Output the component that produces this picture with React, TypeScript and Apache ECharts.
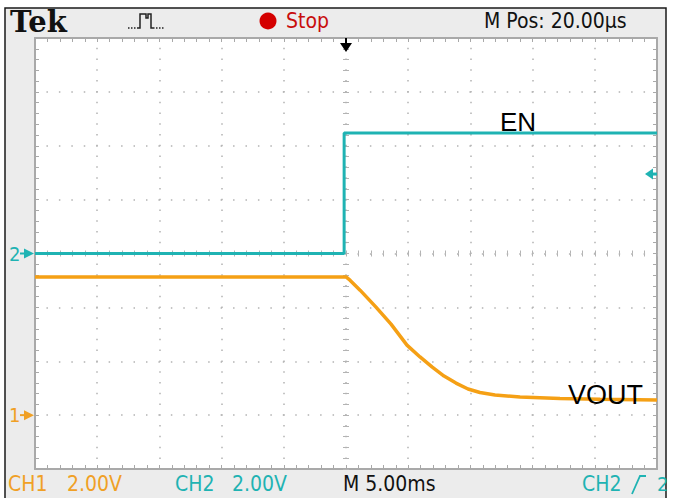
import React, { useEffect, useRef } from 'react';
import * as echarts from 'echarts';

// Time in ms relative to trigger (5 ms/div, 10 divs)
const timeRange = [-25, 25];
// CH1 (VOUT) 2 V/div, ground marker 3 divs below centre
const ch1Range = [-2, 14];
// CH2 (EN) 2 V/div, ground marker at centre
const ch2Range = [-8, 8];

const ch1TimeMs = [-25, 0, 0.32, 1.13, 2.41, 3.62, 4.9, 5.95, 6.91, 7.88, 8.84, 9.81, 10.77, 11.98, 13.99, 17.2, 20.42, 25];
const ch1Volts = [5.13, 5.13, 5.01, 4.64, 4.01, 3.38, 2.6, 2.16, 1.79, 1.45, 1.19, 0.97, 0.84, 0.75, 0.67, 0.62, 0.59, 0.56];

const ch2TimeMs = [-25, -0.15, -0.15, 25];
const ch2Volts = [0, 0, 4.47, 4.47];

const triggerTimeMs = 0;
const triggerLevelV = 2.95;

const headerTexts = { brand: 'Tek', state: 'Stop', pos: 'M Pos: 20.00µs' };
const footerTexts = { ch1: 'CH1', ch1Scale: '2.00V', ch2: 'CH2', ch2Scale: '2.00V', time: 'M 5.00ms', trig: 'CH2', trigLevel: '2' };
const traceLabels = { en: 'EN', vout: 'VOUT' };

const CYAN = '#1fb3b3';
const ORANGE = '#f5a015';
const ORANGE_TXT = '#f0a025';
const FRAME = '#a9a9a9';
const DOT = '#b3b3b3';
const NARROW = '"Liberation Sans Narrow", "DejaVu Sans Condensed", "Roboto", sans-serif';

const GL = 35, GT = 38, GW = 622, GH = 431;

export default function App() {
  const ref = useRef<HTMLDivElement>(null);
  useEffect(() => {
    document.body.style.margin = '0';
    const chart = echarts.init(ref.current!, null, { renderer: 'svg' });
    const frameAxis = (extra: any) => ({
      type: 'value',
      axisLine: { show: true, onZero: false, lineStyle: { color: FRAME, width: 2 } },
      axisTick: { show: true, inside: true, length: 4, lineStyle: { color: FRAME, width: 1 } },
      minorTick: { show: true, splitNumber: 5, length: 4, lineStyle: { color: FRAME, width: 1 } },
      axisLabel: { show: false },
      splitLine: { show: false },
      ...extra,
    });
    const centreAxis = (extra: any, inside: boolean) => ({
      type: 'value',
      axisLine: { show: false, onZero: false },
      axisTick: { show: true, inside, length: 3, lineStyle: { color: DOT, width: 1 } },
      minorTick: { show: true, splitNumber: 5, length: 3, lineStyle: { color: DOT, width: 1 } },
      axisLabel: { show: false },
      splitLine: { show: false },
      ...extra,
    });
    const tx = { min: timeRange[0], max: timeRange[1], interval: 5 };
    const ty = { min: ch2Range[0], max: ch2Range[1], interval: 2 };
    chart.setOption({
      animation: false,
      backgroundColor: '#ffffff',
      grid: { left: GL, top: GT, width: GW, height: GH, show: true, backgroundColor: '#ffffff', borderWidth: 0 },
      xAxis: [
        frameAxis({ ...tx, position: 'bottom', splitLine: { show: true, lineStyle: { color: DOT, width: 1.5, type: [1.5, 9.28], dashOffset: 0.75 } } }),
        frameAxis({ ...tx, position: 'top' }),
        centreAxis({ ...tx, position: 'bottom', offset: -GH / 2 }, true),
        centreAxis({ ...tx, position: 'bottom', offset: -GH / 2 }, false),
      ],
      yAxis: [
        frameAxis({ min: ch1Range[0], max: ch1Range[1], interval: 2, position: 'left', splitLine: { show: true, lineStyle: { color: DOT, width: 1.5, type: [1.5, 10.94], dashOffset: 0.75 } } }),
        frameAxis({ ...ty, position: 'right' }),
        centreAxis({ ...ty, position: 'left', offset: -GW / 2 }, true),
        centreAxis({ ...ty, position: 'left', offset: -GW / 2 }, false),
      ],
      series: [
        {
          type: 'line', name: 'CH2', xAxisIndex: 0, yAxisIndex: 1, showSymbol: false, symbol: 'none',
          data: ch2TimeMs.map((t, i) => [t, ch2Volts[i]]),
          lineStyle: { color: CYAN, width: 3 }, z: 5,
        },
        {
          type: 'line', name: 'CH1', xAxisIndex: 0, yAxisIndex: 0, showSymbol: false, symbol: 'none',
          data: ch1TimeMs.map((t, i) => [t, ch1Volts[i]]),
          lineStyle: { color: ORANGE, width: 3.5 }, z: 6,
        },
      ],
    });

    const ch1Ground = chart.convertToPixel({ xAxisIndex: 0, yAxisIndex: 0 }, [timeRange[0], 0]) as number[];
    const ch2Ground = chart.convertToPixel({ xAxisIndex: 0, yAxisIndex: 1 }, [timeRange[0], 0]) as number[];
    const trigLvl = chart.convertToPixel({ xAxisIndex: 0, yAxisIndex: 1 }, [timeRange[1], triggerLevelV]) as number[];
    const trigPos = chart.convertToPixel({ xAxisIndex: 0, yAxisIndex: 1 }, [triggerTimeMs, ch2Range[1]]) as number[];
    const enPt = chart.convertToPixel({ xAxisIndex: 0, yAxisIndex: 1 }, [ch2TimeMs[3], ch2Volts[3]]) as number[];
    const voutPt = chart.convertToPixel({ xAxisIndex: 0, yAxisIndex: 0 }, [ch1TimeMs[ch1TimeMs.length - 1], ch1Volts[ch1Volts.length - 1]]) as number[];

    const txt = (x: number, y: number, text: string, fill: string, fontSize: number, extra: any = {}) => ({
      type: 'text', x, y, z: 100,
      style: { text, fill, fontSize, fontFamily: NARROW, textVerticalAlign: 'middle', verticalAlign: 'middle', ...extra },
    });

    const gy = ch2Ground[1], g1 = ch1Ground[1];
    chart.setOption({
      graphic: [
        { type: 'rect', z: -10, shape: { x: 5, y: 8, width: 661, height: 500 }, style: { fill: '#ececec', stroke: '#1a1a1a', lineWidth: 1.5 } },
        // header
        txt(10, 22, headerTexts.brand, '#111', 29, { fontFamily: '"DejaVu Serif", serif', fontWeight: 'bold' }),
        { type: 'polyline', z: 100, shape: { points: [[128, 28], [138, 28]] }, style: { stroke: '#222', lineWidth: 1.5, lineDash: [1.5, 1.5], fill: 'none' } },
        { type: 'polyline', z: 100, shape: { points: [[138, 28], [140, 28], [140, 14], [146, 14], [146, 18], [148, 18], [148, 14], [151, 14], [151, 28], [153, 28]] }, style: { stroke: '#222', lineWidth: 1.5, fill: 'none' } },
        { type: 'polyline', z: 100, shape: { points: [[153, 28], [165, 28]] }, style: { stroke: '#222', lineWidth: 1.5, lineDash: [1.5, 1.5], fill: 'none' } },
        { type: 'circle', z: 100, shape: { cx: 268, cy: 21, r: 8.5 }, style: { fill: '#d40000' } },
        txt(286, 21, headerTexts.state, '#c80d0d', 21),
        txt(484, 21, headerTexts.pos, '#111', 21),
        // trigger position marker
        { type: 'line', z: 100, shape: { x1: trigPos[0], y1: GT, x2: trigPos[0], y2: GT + 8 }, style: { stroke: '#000', lineWidth: 2 } },
        { type: 'polygon', z: 100, shape: { points: [[trigPos[0] - 6, GT + 5], [trigPos[0] + 6, GT + 5], [trigPos[0], GT + 14]] }, style: { fill: '#000' } },
        // ground markers
        txt(9, gy, '2', CYAN, 20),
        { type: 'line', z: 100, shape: { x1: 20, y1: gy, x2: 28, y2: gy }, style: { stroke: CYAN, lineWidth: 2 } },
        { type: 'polygon', z: 100, shape: { points: [[24, gy - 5], [34, gy], [24, gy + 5]] }, style: { fill: CYAN } },
        txt(9, g1, '1', ORANGE_TXT, 20),
        { type: 'line', z: 100, shape: { x1: 20, y1: g1, x2: 28, y2: g1 }, style: { stroke: ORANGE_TXT, lineWidth: 2 } },
        { type: 'polygon', z: 100, shape: { points: [[24, g1 - 5], [34, g1], [24, g1 + 5]] }, style: { fill: ORANGE_TXT } },
        // trigger level marker
        { type: 'polygon', z: 100, shape: { points: [[trigLvl[0] - 12, trigLvl[1]], [trigLvl[0] - 4, trigLvl[1] - 5.5], [trigLvl[0] - 4, trigLvl[1] + 5.5]] }, style: { fill: CYAN } },
        { type: 'line', z: 100, shape: { x1: trigLvl[0] - 6, y1: trigLvl[1], x2: trigLvl[0], y2: trigLvl[1] }, style: { stroke: CYAN, lineWidth: 3 } },
        // trace labels
        { type: 'text', z: 100, x: enPt[0] - 157, y: enPt[1] - 11, style: { text: traceLabels.en, fill: '#000', fontSize: 26, fontFamily: '"Liberation Sans", Arial, sans-serif', verticalAlign: 'middle', textVerticalAlign: 'middle' } },
        { type: 'text', z: 100, x: voutPt[0] - 89, y: voutPt[1] - 5, style: { text: traceLabels.vout, fill: '#000', fontSize: 27, fontFamily: '"Liberation Sans", Arial, sans-serif', verticalAlign: 'middle', textVerticalAlign: 'middle' } },
        // footer
        txt(8, 484, footerTexts.ch1, ORANGE_TXT, 21),
        txt(67, 484, footerTexts.ch1Scale, ORANGE_TXT, 21),
        txt(175, 484, footerTexts.ch2, CYAN, 21),
        txt(232, 484, footerTexts.ch2Scale, CYAN, 21),
        txt(343, 484, footerTexts.time, '#111', 21),
        txt(582, 484, footerTexts.trig, CYAN, 21),
        { type: 'polyline', z: 100, shape: { points: [[632, 494], [640, 476], [646, 476]] }, style: { stroke: CYAN, lineWidth: 1.8, fill: 'none' } },
        txt(657, 484, footerTexts.trigLevel, CYAN, 20),
      ],
    });
    return () => chart.dispose();
  }, []);
  return <div ref={ref} style={{ position: 'absolute', left: 0, top: 0, width: 673, height: 498 }} />;
}
